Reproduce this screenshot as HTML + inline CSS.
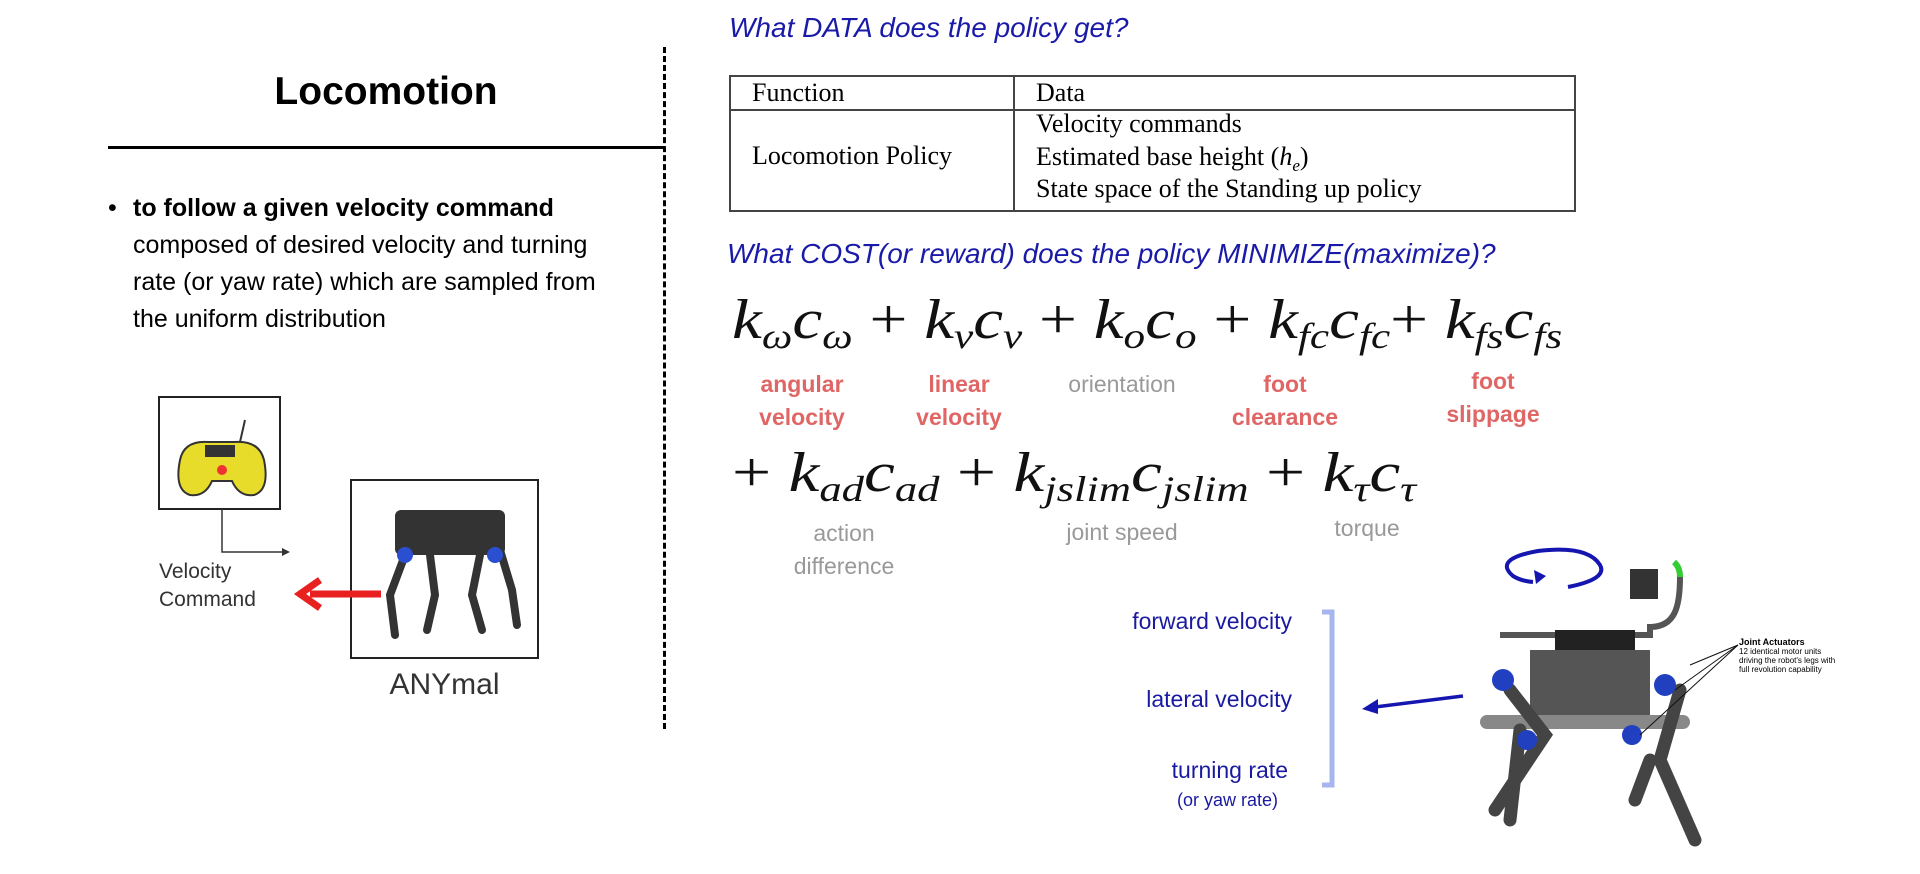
<!DOCTYPE html>
<html><head><meta charset="utf-8"><style>
body{margin:0;width:1920px;height:874px;background:#fff;position:relative;overflow:hidden;font-family:"Liberation Sans",sans-serif}
.a{position:absolute;white-space:nowrap}
.serif{font-family:"Liberation Serif",serif}
.blueh{color:#1a1aa8;font-style:italic;font-size:28px}
.red{color:#e06666;font-weight:bold;font-size:23px;text-align:center;line-height:33px}
.gray{color:#999;font-size:23px;text-align:center;line-height:33px}
.bl{color:#1a1aa0;font-size:23px;text-align:right}
.eq{font-family:"Liberation Serif",serif;font-style:italic;font-size:56px;color:#111;transform-origin:0 0}
.eq sub{font-size:36px;vertical-align:-10px;line-height:0}
.eq .op{font-style:normal}
</style></head><body>
<div class="a" style="left:0;width:772px;top:70px;text-align:center;font-weight:bold;font-size:39px">Locomotion</div>
<div class="a" style="left:108px;width:557px;top:146px;height:3px;background:#000"></div>
<div class="a" style="left:663px;top:47px;height:682px;border-left:3px dashed #000"></div>
<div class="a" style="left:108px;top:190px;font-size:25px;line-height:37px;white-space:normal;width:520px"><span style="position:absolute;left:0">•</span><div style="margin-left:25px"><b>to follow a given velocity command</b><br>composed of desired velocity and turning rate (or yaw rate) which are sampled from the uniform distribution</div></div>

<svg class="a" style="left:0;top:0" width="1920" height="874">
<rect x="159" y="397" width="121" height="112" fill="#fff" stroke="#222" stroke-width="2"/>
<path d="M180 460 q-6 30 10 35 q15 2 22 -14 h20 q7 16 22 14 q16-5 10-35 q-5-20-30-18 h-25 q-25-2-29 18z" fill="#e8dc2a" stroke="#333" stroke-width="2"/>
<rect x="205" y="445" width="30" height="12" fill="#333"/>
<circle cx="222" cy="470" r="5" fill="#e33"/>
<line x1="240" y1="442" x2="245" y2="420" stroke="#333" stroke-width="2"/>
<polyline points="222,509 222,552 286,552" fill="none" stroke="#333" stroke-width="1.5"/>
<polygon points="290,552 282,548 282,556" fill="#333"/>
<rect x="351" y="480" width="187" height="178" fill="#fff" stroke="#222" stroke-width="2"/>
<rect x="395" y="510" width="110" height="45" rx="6" fill="#333"/>
<g stroke="#333" stroke-width="8" fill="none" stroke-linecap="round"><path d="M405 555 l-15 40 l5 40"/><path d="M430 555 l5 40 l-8 35"/><path d="M480 555 l-8 40 l10 35"/><path d="M500 550 l12 40 l5 35"/></g>
<circle cx="405" cy="555" r="8" fill="#2a4fd0"/><circle cx="495" cy="555" r="8" fill="#2a4fd0"/>
<line x1="381" y1="594" x2="310" y2="594" stroke="#e82020" stroke-width="7"/>
<polyline points="320,580 300,594 320,608" fill="none" stroke="#e82020" stroke-width="7"/>
<rect x="730" y="76" width="845" height="135" fill="none" stroke="#444" stroke-width="2"/>
<line x1="730" y1="110" x2="1575" y2="110" stroke="#444" stroke-width="2"/>
<line x1="1014" y1="76" x2="1014" y2="211" stroke="#444" stroke-width="2"/>
<path d="M1322 612 h10 v173 h-10" fill="none" stroke="#a6b6ee" stroke-width="5"/>
<line x1="1463" y1="696" x2="1375" y2="707" stroke="#1515b0" stroke-width="3.5"/>
<polygon points="1362,709 1378,699 1378,714" fill="#1515b0"/>
<path d="M1568 587 q40-8 32-22 q-12-20-62-14 q-45 8-25 25 q8 5 20 6" fill="none" stroke="#1515b0" stroke-width="4"/>
<polygon points="1546,576 1534,570 1536,584" fill="#1515b0"/>
<rect x="1630" y="569" width="28" height="30" fill="#333"/>
<path d="M1500 635 h150 v-8 c25 0 30-20 30-50" fill="none" stroke="#555" stroke-width="6"/>
<path d="M1680 577 q0-10 -6-15" fill="none" stroke="#3c3" stroke-width="6"/>
<rect x="1555" y="630" width="80" height="25" fill="#222"/>
<rect x="1530" y="650" width="120" height="75" fill="#555"/>
<rect x="1480" y="715" width="210" height="14" rx="7" fill="#888"/>
<g stroke="#444" stroke-width="13" fill="none" stroke-linecap="round"><path d="M1510 690 l35 45 l-50 75"/><path d="M1520 730 l-10 90"/><path d="M1680 690 l-20 70 l35 80"/><path d="M1650 760 l-15 40"/></g>
<g fill="#2040c0"><circle cx="1503" cy="680" r="11"/><circle cx="1527" cy="740" r="10"/><circle cx="1632" cy="735" r="10"/><circle cx="1665" cy="685" r="11"/></g>
<g stroke="#111" stroke-width="1"><line x1="1738" y1="645" x2="1690" y2="665"/><line x1="1738" y1="645" x2="1675" y2="690"/><line x1="1738" y1="645" x2="1640" y2="735"/></g>
</svg>
<div class="a" style="left:159px;top:558px;font-size:21px;line-height:28px;color:#333">Velocity<br>Command</div>
<div class="a" style="left:351px;width:187px;top:668px;text-align:center;font-size:30px;color:#333">ANYmal</div>

<div class="a blueh" style="left:729px;top:12px">What DATA does the policy get?</div>
<div class="a serif" style="left:752px;top:76px;font-size:26px;line-height:34px">Function</div>
<div class="a serif" style="left:1036px;top:76px;font-size:26px;line-height:34px">Data</div>
<div class="a serif" style="left:752px;top:141px;font-size:26px">Locomotion Policy</div>
<div class="a serif" style="left:1036px;top:108px;font-size:26px;line-height:32.5px">Velocity commands<br>Estimated base height (<i>h<sub style="font-size:17px;line-height:0">e</sub></i>)<br>State space of the Standing up policy</div>
<div class="a blueh" style="left:727px;top:238px">What COST(or reward) does the policy MINIMIZE(maximize)?</div>
<div class="a eq" style="left:732px;top:288px;transform:scaleX(1.2)">k<sub>ω</sub>c<sub>ω</sub> <span class="op">+</span> k<sub>v</sub>c<sub>v</sub> <span class="op">+</span> k<sub>o</sub>c<sub>o</sub> <span class="op">+</span> k<sub>fc</sub>c<sub>fc</sub><span class="op">+</span> k<sub>fs</sub>c<sub>fs</sub></div>
<div class="a eq" style="left:732px;top:441px;transform:scaleX(1.24)"><span class="op">+</span> k<sub>ad</sub>c<sub>ad</sub> <span class="op">+</span> k<sub>jslim</sub>c<sub>jslim</sub> <span class="op">+</span> k<sub>τ</sub>c<sub>τ</sub></div>
<div class="a red" style="left:722px;width:160px;top:368px">angular<br>velocity</div>
<div class="a red" style="left:879px;width:160px;top:368px">linear<br>velocity</div>
<div class="a gray" style="left:1042px;width:160px;top:368px">orientation</div>
<div class="a red" style="left:1205px;width:160px;top:368px">foot<br>clearance</div>
<div class="a red" style="left:1413px;width:160px;top:365px">foot<br>slippage</div>
<div class="a gray" style="left:764px;width:160px;top:517px">action<br>difference</div>
<div class="a gray" style="left:1042px;width:160px;top:516px">joint speed</div>
<div class="a gray" style="left:1287px;width:160px;top:512px">torque</div>
<div class="a bl" style="right:628px;top:608px">forward velocity</div>
<div class="a bl" style="right:628px;top:686px">lateral velocity</div>
<div class="a bl" style="right:632px;top:757px">turning rate</div>
<div class="a bl" style="right:642px;top:790px;font-size:18px">(or yaw rate)</div>
<div class="a" style="left:1739px;top:638px;font-size:8px;line-height:9px"><b style="font-size:9px">Joint Actuators</b><br>12 identical motor units<br>driving the robot's legs with<br>full revolution capability</div>
</body></html>
